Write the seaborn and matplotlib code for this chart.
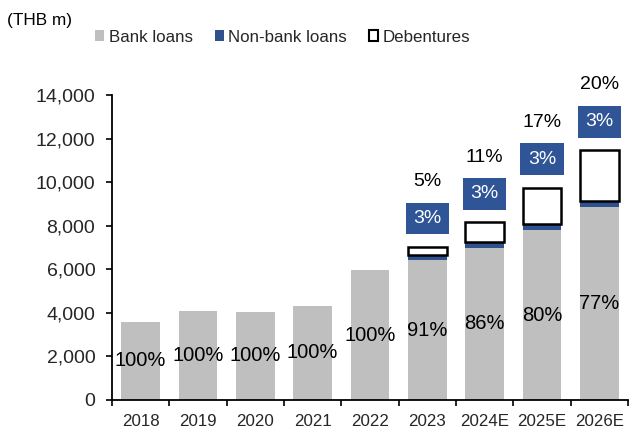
import matplotlib
matplotlib.use("Agg")
import matplotlib.pyplot as plt
from matplotlib.patches import Patch
from matplotlib.ticker import FuncFormatter, FixedLocator
import numpy as np
import pandas as pd
import seaborn as sns

years = ["2018", "2019", "2020", "2021", "2022", "2023", "2024E", "2025E", "2026E"]
bank_loans = [3600, 4100, 4050, 4330, 5950, 6420, 7000, 7800, 8850]
nonbank_loans = [0, 0, 0, 0, 0, 220, 230, 280, 300]
debentures = [0, 0, 0, 0, 0, 380, 920, 1660, 2320]

GRAY = "#BFBFBF"
NAVY = "#2F5597"
NAVY_BAR = "#2F528F"

sns.set_theme(style="white")
plt.rcParams["font.family"] = ["Liberation Sans", "DejaVu Sans"]

df = pd.DataFrame({"year": years, "bank": bank_loans,
                   "nonbank": nonbank_loans, "deb": debentures})
df["bank_nb"] = df["bank"] + df["nonbank"]
df["total"] = df["bank_nb"] + df["deb"]

fig = plt.figure(figsize=(6.3, 4.28), dpi=100)
ax = fig.add_axes([112 / 630, 1 - 400 / 428, 516 / 630, 305 / 428])

width = 0.68
# stacked layers: bank+non-bank drawn first, bank on top of it
sns.barplot(data=df, x="year", y="bank_nb", color=NAVY_BAR, saturation=1,
            width=width, ax=ax, edgecolor="none", linewidth=0, order=years)
sns.barplot(data=df, x="year", y="bank", color=GRAY, saturation=1,
            width=width, ax=ax, edgecolor="none", linewidth=0, order=years)
# debenture segments only exist from 2023 onward
has_deb = df[df["deb"] > 0]
sns.barplot(data=has_deb, x="year", y="deb", color="white", saturation=1,
            width=width, ax=ax, edgecolor="black", linewidth=1.8,
            order=years, bottom=has_deb["bank_nb"].to_numpy())

ax.set_xlim(-0.5, len(years) - 0.5)
ax.set_ylim(0, 14000)
ax.set_xlabel("")
ax.set_ylabel("")

for s in ["top", "right"]:
    ax.spines[s].set_visible(False)
for s in ["left", "bottom"]:
    ax.spines[s].set_color("black")
    ax.spines[s].set_linewidth(1.3)

ax.yaxis.set_major_locator(FixedLocator(np.arange(0, 14001, 2000)))
ax.yaxis.set_major_formatter(FuncFormatter(lambda v, p: f"{v:,.0f}"))
ax.tick_params(axis="y", which="major", direction="out", length=4, width=1.2,
               color="black", labelsize=14, pad=8, left=True)

# category boundaries carry the tick marks, centres carry the labels
ax.set_xticks(np.arange(-0.5, len(years), 1.0))
ax.set_xticklabels([""] * (len(years) + 1))
ax.set_xticks(np.arange(len(years)), minor=True)
ax.set_xticklabels(years, minor=True)
ax.tick_params(axis="x", which="major", direction="out", length=4, width=1.2,
               color="black", bottom=True)
ax.tick_params(axis="x", which="minor", length=0, labelsize=12.2, pad=10)

for i, row in df.iterrows():
    total = row["total"]
    pb = round(100 * row["bank"] / total)
    ax.text(i, row["bank"] / 2, f"{pb}%", ha="center", va="center",
            fontsize=14.5, color="black")
    if row["nonbank"] > 0:
        pn = round(100 * row["nonbank"] / total)
        pd_ = round(100 * row["deb"] / total)
        ax.annotate(f"{pn}%", xy=(i, total), xytext=(0, 20.5),
                    textcoords="offset points", ha="center", va="center",
                    fontsize=14, color="white", annotation_clip=False,
                    bbox=dict(boxstyle="square,pad=0.38", fc=NAVY, ec="none"))
        ax.annotate(f"{pd_}%", xy=(i, total), xytext=(0, 47),
                    textcoords="offset points", ha="center", va="center",
                    fontsize=14, color="black", annotation_clip=False)

fig.text(7 / 630, 1 - 20 / 428, "(THB m)", ha="left", va="center",
         fontsize=12.4, color="black")

handles = [Patch(facecolor=GRAY, edgecolor="none", label="Bank loans"),
           Patch(facecolor=NAVY_BAR, edgecolor="none", label="Non-bank loans"),
           Patch(facecolor="white", edgecolor="black", linewidth=1.5,
                 label="Debentures")]
fig.legend(handles=handles, loc="center left",
           bbox_to_anchor=(95 / 630, 1 - 37 / 428), ncol=3, frameon=False,
           fontsize=12.2, handlelength=0.55, handleheight=0.55,
           handletextpad=0.25, columnspacing=1.3, borderpad=0,
           borderaxespad=0)

fig.savefig("out.png", dpi=100)
